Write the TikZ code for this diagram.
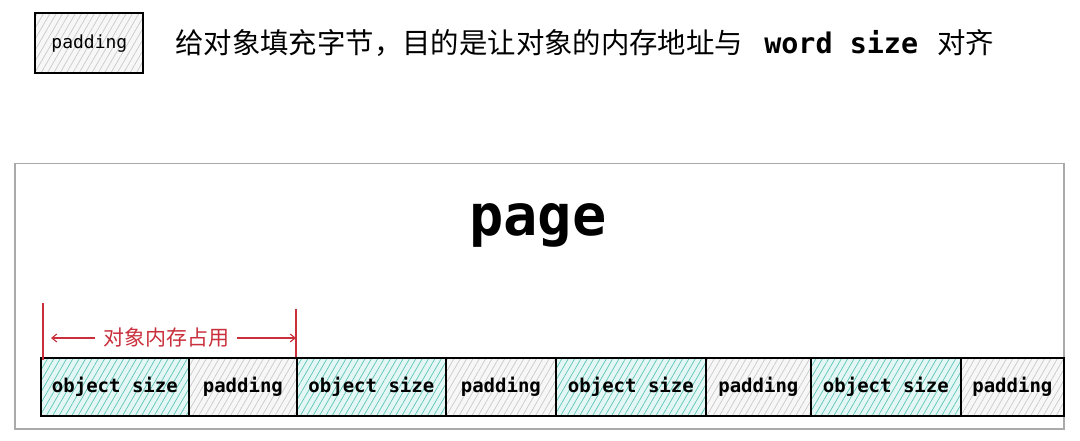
\documentclass[tikz,border=0pt]{standalone}
\usepackage{fontspec}
\setmonofont{DejaVu Sans Mono}
\newfontfamily\cjk{Noto Sans CJK SC}
\usetikzlibrary{patterns.meta,arrows.meta}
\definecolor{tealbg}{HTML}{E4F7F4}
\definecolor{tealhatch}{HTML}{5CC4B8}
\definecolor{graybg}{HTML}{F7F7F7}
\definecolor{grayhatch}{HTML}{C9C9C9}
\definecolor{pagegray}{HTML}{AAAAAA}
\definecolor{annored}{HTML}{C9303C}
\tikzset{
  cellbox/.style={draw=black, line width=1.8pt, inner sep=0pt, anchor=north west,
    minimum height=58, font=\ttfamily\bfseries\fontsize{19}{19}\selectfont},
  objbox/.style={cellbox, preaction={fill=tealbg},
    pattern={Lines[angle=60,distance=5.5pt,line width=0.7pt]}, pattern color=tealhatch},
  padbox/.style={cellbox, preaction={fill=graybg},
    pattern={Lines[angle=60,distance=5.5pt,line width=0.7pt]}, pattern color=grayhatch},
  annoline/.style={draw=annored, line width=1.1pt},
  annoarrow/.style={annoline, -{Straight Barb[length=5pt,width=8pt]}},
}
\begin{document}
\begin{tikzpicture}[x=1pt,y=-1pt]
\useasboundingbox[fill=white] (0,0) rectangle (1080,441);

% legend
\node[padbox, minimum width=108, minimum height=60,
  font=\ttfamily\fontsize{18}{18}\selectfont] (legend) at (35,13) {padding};
\node[anchor=west, inner sep=0pt, font=\cjk\fontsize{28.4}{28.4}\selectfont] (desc) at (175,43)
  {给对象填充字节，目的是让对象的内存地址与\hspace{4pt}{\ttfamily\bfseries\ word\ size\ }\hspace{2pt}对齐};

% page
\node[draw=pagegray, line width=1.5pt, minimum width=1049, minimum height=265,
  anchor=north west, inner sep=0pt] (page) at (14,163) {};
\node[anchor=base, inner sep=0pt, font=\ttfamily\bfseries\fontsize{57}{57}\selectfont] (pagelabel) at (538,236) {page};

% cells
\node[objbox, minimum width=148] (o1) at (40,357) {object size};
\node[padbox, minimum width=108] (p1) at (188,357) {padding};
\node[objbox, minimum width=149] (o2) at (296,357) {object size};
\node[padbox, minimum width=110] (p2) at (445,357) {padding};
\node[objbox, minimum width=150] (o3) at (555,357) {object size};
\node[padbox, minimum width=105] (p3) at (705,357) {padding};
\node[objbox, minimum width=150] (o4) at (810,357) {object size};
\node[padbox, minimum width=103] (p4) at (960,357) {padding};

% annotation
\coordinate (lt) at (43,303);
\coordinate (lb) at (43,360);
\coordinate (rt) at (296,309);
\coordinate (rb) at (296,357);
\coordinate (la) at (51,338);
\coordinate (ra) at (296,338);
\draw[annoline] (lt) -- (lb);
\draw[annoline] (rt) -- (rb);
\node[text=annored, inner sep=8pt, font=\cjk\fontsize{21}{21}\selectfont] (occ) at (166,338) {对象内存占用};
\draw[annoarrow] (occ.west) -- (la);
\draw[annoarrow] (occ.east) -- (ra);
\end{tikzpicture}
\end{document}
